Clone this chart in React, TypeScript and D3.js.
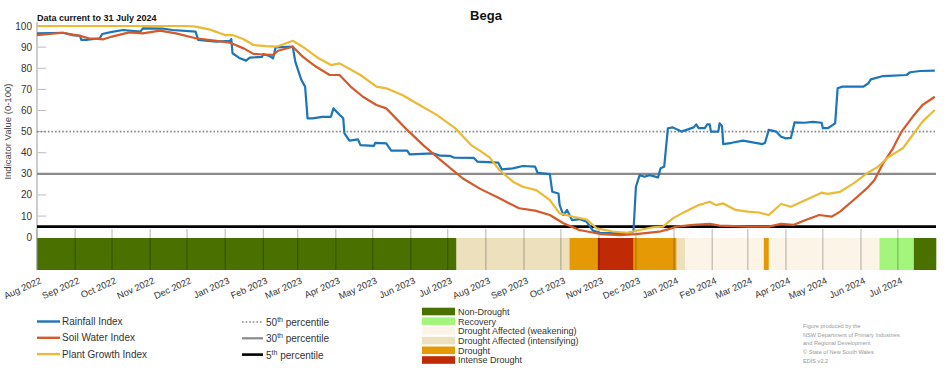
import * as d3 from 'd3'

const parse = d3.utcParse('%Y-%m-%d')

// index values (0-100)
const rainfall: [string, number][] = [
  ['2022-08-01', 96.5], ['2022-08-22', 96.8], ['2022-08-30', 95.7], ['2022-09-05', 95.3],
  ['2022-09-06', 93.4], ['2022-09-10', 93.4], ['2022-09-21', 94.2], ['2022-09-23', 96.2],
  ['2022-10-01', 97.2], ['2022-10-10', 98.1], ['2022-10-24', 97.3], ['2022-10-26', 98.9],
  ['2022-11-11', 98.8], ['2022-11-19', 98.1], ['2022-12-08', 97.3], ['2022-12-10', 93.4],
  ['2022-12-25', 92.6], ['2023-01-05', 93.0], ['2023-01-06', 93.8], ['2023-01-07', 87.1],
  ['2023-01-13', 84.7], ['2023-01-18', 83.6], ['2023-01-21', 85.0], ['2023-01-31', 85.4],
  ['2023-02-01', 86.7], ['2023-02-06', 85.8], ['2023-02-09', 84.7], ['2023-02-11', 89.9],
  ['2023-02-25', 90.2], ['2023-02-27', 83.1], ['2023-03-04', 74.4], ['2023-03-07', 71.3],
  ['2023-03-09', 56.3], ['2023-03-13', 56.3], ['2023-03-21', 57.0], ['2023-03-28', 57.0],
  ['2023-03-30', 61.0], ['2023-04-04', 58.0], ['2023-04-07', 56.3], ['2023-04-08', 49.2],
  ['2023-04-12', 45.7], ['2023-04-19', 46.3], ['2023-04-21', 43.6], ['2023-05-02', 43.2],
  ['2023-05-03', 44.7], ['2023-05-12', 44.4], ['2023-05-16', 41.0], ['2023-05-29', 41.0],
  ['2023-05-31', 39.2], ['2023-06-19', 39.7], ['2023-06-25', 38.6], ['2023-07-03', 38.5],
  ['2023-07-06', 37.7], ['2023-07-22', 37.6], ['2023-07-25', 35.8], ['2023-08-11', 35.3],
  ['2023-08-14', 32.1], ['2023-08-23', 32.6], ['2023-08-31', 33.7], ['2023-09-10', 33.4],
  ['2023-09-12', 30.5], ['2023-09-22', 29.9], ['2023-09-24', 21.5], ['2023-09-29', 20.7],
  ['2023-09-30', 15.2], ['2023-10-03', 10.5], ['2023-10-06', 12.9], ['2023-10-10', 8.1],
  ['2023-10-16', 8.6], ['2023-10-22', 7.3], ['2023-10-27', 3.1], ['2023-11-02', 2.1],
  ['2023-11-24', 1.9], ['2023-11-29', 2.7], ['2023-12-01', 23.9], ['2023-12-04', 29.4],
  ['2023-12-08', 28.6], ['2023-12-12', 29.4], ['2023-12-19', 28.3], ['2023-12-21', 32.6],
  ['2023-12-24', 33.4], ['2023-12-27', 51.6], ['2023-12-31', 52.0], ['2024-01-07', 50.0],
  ['2024-01-17', 52.0], ['2024-01-19', 53.4], ['2024-01-21', 51.6], ['2024-01-26', 51.6],
  ['2024-01-28', 53.4], ['2024-01-30', 53.4], ['2024-01-31', 50.0], ['2024-02-06', 50.0],
  ['2024-02-07', 53.9], ['2024-02-09', 52.7], ['2024-02-10', 44.1], ['2024-02-17', 44.7],
  ['2024-02-26', 45.7], ['2024-03-13', 44.1], ['2024-03-15', 44.7], ['2024-03-18', 50.8],
  ['2024-03-24', 50.0], ['2024-03-28', 47.6], ['2024-04-01', 46.8], ['2024-04-05', 47.0],
  ['2024-04-08', 54.4], ['2024-04-16', 54.2], ['2024-04-23', 54.6], ['2024-04-30', 54.2],
  ['2024-05-01', 51.6], ['2024-05-05', 51.6], ['2024-05-11', 53.9], ['2024-05-13', 70.5],
  ['2024-05-17', 71.3], ['2024-06-03', 71.3], ['2024-06-07', 72.9], ['2024-06-09', 74.7],
  ['2024-06-19', 76.3], ['2024-07-08', 76.8], ['2024-07-11', 78.1], ['2024-07-19', 78.7],
  ['2024-07-31', 78.9],
]

const soilWater: [string, number][] = [
  ['2022-08-01', 95.7], ['2022-08-22', 96.8], ['2022-09-05', 95.3], ['2022-09-12', 94.2],
  ['2022-09-24', 93.7], ['2022-10-01', 95.0], ['2022-10-15', 97.0], ['2022-10-26', 96.5],
  ['2022-11-09', 97.8], ['2022-11-22', 96.5], ['2022-12-08', 94.2], ['2022-12-25', 93.0],
  ['2023-01-05', 92.1], ['2023-01-16', 89.4], ['2023-01-24', 86.8], ['2023-02-01', 86.5],
  ['2023-02-09', 86.3], ['2023-02-13', 88.3], ['2023-02-25', 90.2], ['2023-03-05', 85.5],
  ['2023-03-16', 80.7], ['2023-03-27', 76.8], ['2023-04-04', 76.8], ['2023-04-13', 71.3],
  ['2023-04-23', 66.5], ['2023-05-04', 62.6], ['2023-05-12', 61.0], ['2023-05-29', 50.8],
  ['2023-06-11', 43.6], ['2023-06-25', 36.6], ['2023-07-13', 27.9], ['2023-07-27', 23.0],
  ['2023-08-12', 18.4], ['2023-08-28', 13.7], ['2023-09-10', 12.6], ['2023-09-22', 10.5],
  ['2023-10-03', 6.6], ['2023-10-16', 3.4], ['2023-11-02', 1.5], ['2023-11-18', 1.0],
  ['2023-12-01', 1.5], ['2023-12-20', 2.6], ['2023-12-27', 3.7], ['2024-01-03', 5.0],
  ['2024-01-17', 5.8], ['2024-01-30', 6.3], ['2024-02-07', 5.5], ['2024-03-01', 5.0],
  ['2024-03-18', 5.0], ['2024-03-28', 6.3], ['2024-04-07', 5.8], ['2024-04-17', 8.1],
  ['2024-04-28', 10.5], ['2024-05-08', 9.7], ['2024-05-15', 12.1], ['2024-05-26', 17.6],
  ['2024-06-06', 23.2], ['2024-06-12', 27.1], ['2024-06-19', 35.0], ['2024-06-27', 42.1],
  ['2024-07-04', 50.0], ['2024-07-13', 57.0], ['2024-07-21', 62.6], ['2024-07-31', 66.5],
]

const plantGrowth: [string, number][] = [
  ['2022-08-01', 100], ['2022-09-17', 100], ['2022-12-01', 100], ['2022-12-08', 99.7],
  ['2022-12-19', 98.4], ['2023-01-01', 95.7], ['2023-01-07', 95.7], ['2023-01-16', 93.7],
  ['2023-01-24', 91.0], ['2023-02-03', 90.5], ['2023-02-12', 90.2], ['2023-02-25', 93.0],
  ['2023-03-05', 90.2], ['2023-03-18', 84.7], ['2023-03-28', 81.5], ['2023-04-04', 82.3],
  ['2023-04-21', 76.8], ['2023-05-04', 71.3], ['2023-05-12', 70.5], ['2023-05-25', 67.3],
  ['2023-06-08', 62.6], ['2023-06-22', 57.9], ['2023-07-07', 51.6], ['2023-07-20', 43.6],
  ['2023-07-27', 41.0], ['2023-08-04', 37.8], ['2023-08-12', 31.8], ['2023-08-23', 26.3],
  ['2023-08-31', 23.9], ['2023-09-11', 22.3], ['2023-09-22', 17.6], ['2023-09-30', 11.3],
  ['2023-10-11', 9.7], ['2023-10-22', 8.4], ['2023-10-30', 4.2], ['2023-11-12', 2.7],
  ['2023-11-24', 2.1], ['2023-12-04', 3.4], ['2023-12-15', 4.7], ['2023-12-23', 5.0],
  ['2023-12-31', 8.9], ['2024-01-10', 12.1], ['2024-01-21', 15.2], ['2024-01-30', 16.8],
  ['2024-02-04', 15.2], ['2024-02-10', 16.0], ['2024-02-20', 12.9], ['2024-03-01', 12.1],
  ['2024-03-10', 11.7], ['2024-03-18', 10.5], ['2024-03-28', 15.7], ['2024-04-05', 14.4],
  ['2024-04-17', 17.6], ['2024-04-30', 21.1], ['2024-05-05', 20.5], ['2024-05-15', 21.5],
  ['2024-05-26', 25.5], ['2024-06-06', 30.3], ['2024-06-15', 33.4], ['2024-06-23', 37.8],
  ['2024-07-05', 42.1], ['2024-07-13', 48.4], ['2024-07-21', 54.7], ['2024-07-31', 60.2],
]

const categories = [
  'Non-Drought',
  'Recovery',
  'Drought Affected (weakening)',
  'Drought Affected (intensifying)',
  'Drought',
  'Intense Drought',
]
const categoryColors = ['#4a7000', '#a3f67b', '#fdf4e8', '#ece0bd', '#e59a05', '#c02a05']

const droughtPeriods: [string, string, string][] = [
  ['2022-08-01', '2023-07-08', 'Non-Drought'],
  ['2023-07-08', '2023-10-08', 'Drought Affected (intensifying)'],
  ['2023-10-08', '2023-10-31', 'Drought'],
  ['2023-10-31', '2023-11-29', 'Intense Drought'],
  ['2023-11-29', '2024-01-03', 'Drought'],
  ['2024-01-03', '2024-01-10', 'Drought Affected (intensifying)'],
  ['2024-01-10', '2024-03-14', 'Drought Affected (weakening)'],
  ['2024-03-14', '2024-03-18', 'Drought'],
  ['2024-03-18', '2024-06-16', 'Drought Affected (weakening)'],
  ['2024-06-16', '2024-07-14', 'Recovery'],
  ['2024-07-14', '2024-08-01', 'Non-Drought'],
]

const seriesNames = ['Rainfall Index', 'Soil Water Index', 'Plant Growth Index']
const seriesData = [rainfall, soilWater, plantGrowth]
const seriesColors = ['#1c74b9', '#d55a2b', '#ebb934']

const percentiles = [50, 30, 5]
const percentileStyles = [
  { stroke: '#888', width: 1.6, dash: '1.6,2' },
  { stroke: '#8a8a8a', width: 2.2, dash: '' },
  { stroke: '#000', width: 2.6, dash: '' },
]

const yTicks = [0, 10, 20, 30, 40, 50, 60, 70, 80, 90, 100]
const credits = [
  'Figure produced by the',
  'NSW Department of Primary Industries',
  'and Regional Development',
  '\u00a9 State of New South Wales',
  'EDIS v2.2',
]

const W = 952
const H = 370
const FONT = "'Liberation Sans', Arial, sans-serif"

export default function App() {
  const x = d3.scaleUtc()
    .domain([parse('2022-08-01')!, parse('2024-08-01')!])
    .range([37, 936])
  const y = d3.scaleLinear().domain([0, 100]).range([237.2, 26])
  const bandTop = 238
  const bandBottom = 270

  const line = d3.line<[string, number]>()
    .x(d => x(parse(d[0])!))
    .y(d => y(d[1]))

  const months = d3.utcMonth.range(parse('2022-08-01')!, parse('2024-08-01')!)
  const fmt = d3.utcFormat('%b %Y')
  const colorOf = (c: string) => categoryColors[categories.indexOf(c)]

  return (
    <svg width={W} height={H} style={{ position: 'absolute', left: 0, top: 0, background: '#fff' }}
      fontFamily={FONT}>
      <text x={486} y={20} textAnchor="middle" fontSize={13} fontWeight="bold" fill="#111">Bega</text>
      <text x={37} y={21} fontSize={9} fontWeight="bold" fill="#111">Data current to 31 July 2024</text>

      {/* y axis */}
      <text transform={`translate(11,${(y(0) + y(100)) / 2}) rotate(-90)`} textAnchor="middle"
        fontSize={9.5} fill="#444">Indicator Value (0-100)</text>
      {yTicks.map(t => (
        <g key={t}>
          <text x={32} y={y(t) + 3.5} textAnchor="end" fontSize={10} fill="#333">{t}</text>
          {t > 0 && t < 100 && <line x1={38} x2={46} y1={y(t)} y2={y(t)} stroke="#bbb" strokeWidth={1} />}
        </g>
      ))}

      {/* drought category band */}
      {droughtPeriods.map((p, i) => (
        <rect key={i} x={x(parse(p[0])!)} y={bandTop} height={bandBottom - bandTop}
          width={x(parse(p[1])!) - x(parse(p[0])!) + 0.3} fill={colorOf(p[2])} />
      ))}
      {months.map((m, i) => (
        <g key={i}>
          <line x1={x(m)} x2={x(m)} y1={229} y2={bandBottom} stroke="rgba(0,0,0,0.3)" strokeWidth={1} />
          <text transform={`translate(${x(m) + 5},${283}) rotate(-24)`} textAnchor="end"
            fontSize={9.3} fill="#333">{fmt(m)}</text>
        </g>
      ))}
      <line x1={37} x2={37} y1={22} y2={bandBottom} stroke="#999" strokeWidth={1} />

      {/* percentile lines */}
      {percentiles.map((p, i) => (
        <line key={p} x1={37} x2={936} y1={y(p)} y2={y(p)} stroke={percentileStyles[i].stroke}
          strokeWidth={percentileStyles[i].width} strokeDasharray={percentileStyles[i].dash || undefined} />
      ))}

      {/* index lines */}
      {seriesData.map((s, i) => (
        <path key={i} d={line(s) ?? ''} fill="none" stroke={seriesColors[i]} strokeWidth={2.2}
          strokeLinejoin="round" />
      ))}

      {/* legend: series */}
      {seriesNames.map((n, i) => (
        <g key={n} transform={`translate(37,${321.5 + i * 16.3})`}>
          <line x1={0} x2={23} y1={0} y2={0} stroke={seriesColors[i]} strokeWidth={2.4} />
          <text x={25} y={3.5} fontSize={10} fill="#333">{n}</text>
        </g>
      ))}

      {/* legend: percentiles */}
      {percentiles.map((p, i) => (
        <g key={p} transform={`translate(242,${322 + i * 16.3})`}>
          <line x1={0} x2={21} y1={0} y2={0} stroke={percentileStyles[i].stroke}
            strokeWidth={percentileStyles[i].width} strokeDasharray={percentileStyles[i].dash || undefined} />
          <text x={24} y={4} fontSize={10} fill="#333">
            {p}<tspan dy={-4} fontSize={7}>th</tspan><tspan dy={4}> percentile</tspan>
          </text>
        </g>
      ))}

      {/* legend: drought categories */}
      {categories.map((c, i) => (
        <g key={c} transform={`translate(422,${311.5 + i * 9.7})`}>
          <rect x={0} y={-3.8} width={33} height={7.6} fill={categoryColors[i]} />
          <text x={36} y={3.3} fontSize={9} fill="#333">{c}</text>
        </g>
      ))}

      {credits.map((c, i) => (
        <text key={i} x={803} y={328 + i * 8.7} fontSize={5.6} fill="#999">{c}</text>
      ))}
    </svg>
  )
}
